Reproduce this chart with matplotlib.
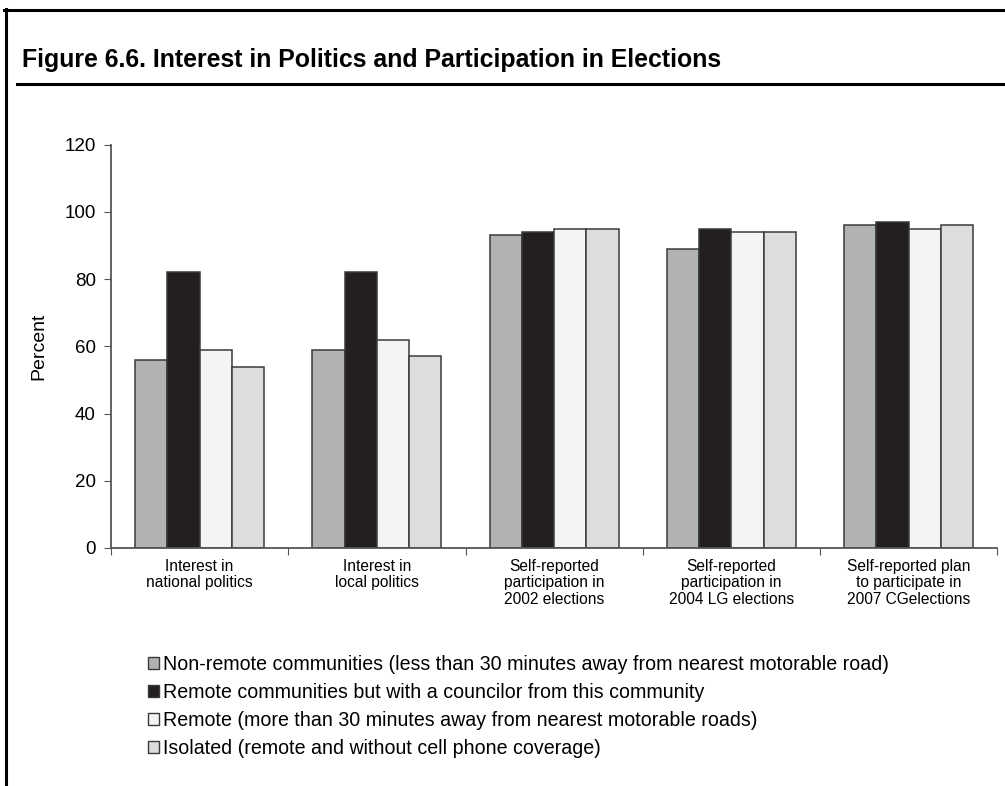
import matplotlib
matplotlib.use("Agg")
import matplotlib.pyplot as plt
import numpy as np
from matplotlib.patches import Patch
from matplotlib.lines import Line2D

plt.rcParams["font.family"] = ["Liberation Sans", "DejaVu Sans"]

categories = [
    "Interest in\nnational politics",
    "Interest in\nlocal politics",
    "Self-reported\nparticipation in\n2002 elections",
    "Self-reported\nparticipation in\n2004 LG elections",
    "Self-reported plan\nto participate in\n2007 CGelections",
]
series_names = [
    "Non-remote communities (less than 30 minutes away from nearest motorable road)",
    "Remote communities but with a councilor from this community",
    "Remote (more than 30 minutes away from nearest motorable roads)",
    "Isolated (remote and without cell phone coverage)",
]
non_remote = [56, 59, 93, 89, 96]
remote_councilor = [82, 82, 94, 95, 97]
remote = [59, 62, 95, 94, 95]
isolated = [54, 57, 95, 94, 96]
yticks = [0, 20, 40, 60, 80, 100, 120]

colors = ["#b1b2b4", "#231f20", "#f4f4f4", "#dcdddf"]
edge = "#3a3a3a"

fig = plt.figure(figsize=(10.05, 7.86), dpi=100)

# frame: top border, left border, rule under the title
fig.add_artist(Line2D([0.004, 1.0], [0.987, 0.987], color="black", lw=2.2))
fig.add_artist(Line2D([0.006, 0.006], [0.0, 0.988], color="black", lw=2.2))
fig.add_artist(Line2D([0.017, 1.0], [0.893, 0.893], color="black", lw=2.2))
fig.text(0.022, 0.924, "Figure 6.6. Interest in Politics and Participation in Elections",
         fontsize=17.9, fontweight="bold", va="center", ha="left")

ax = fig.add_axes([0.1104, 0.3028, 0.882, 0.5131])
x = np.arange(len(categories))
w = 0.182
all_series = [non_remote, remote_councilor, remote, isolated]
for i, vals in enumerate(all_series):
    ax.bar(x + (i - 1.5) * w, vals, w, color=colors[i], edgecolor=edge,
           linewidth=1.1, zorder=2)

ax.set_xlim(-0.5, 4.5)
ax.set_ylim(0, 120)
ax.set_yticks(yticks)
ax.set_yticklabels([str(v) for v in yticks], fontsize=13.5)
ax.set_ylabel("Percent", fontsize=14, labelpad=12)
ax.set_xticks(np.arange(-0.5, 5.0, 1.0))
ax.set_xticklabels([])
ax.set_xticks(x, minor=True)
ax.set_xticklabels(categories, minor=True, fontsize=11.2, linespacing=1.1)
ax.tick_params(axis="x", which="minor", length=0, pad=8)
ax.tick_params(axis="x", which="major", length=5, direction="out", color="#555555")
ax.tick_params(axis="y", length=5, direction="out", color="#555555", pad=6)
for s in ("top", "right"):
    ax.spines[s].set_visible(False)
for s in ("left", "bottom"):
    ax.spines[s].set_color("#555555")
    ax.spines[s].set_linewidth(1.3)

handles = [Patch(facecolor=colors[i], edgecolor=edge, linewidth=1.0)
           for i in range(4)]
fig.legend(handles, series_names, loc="upper left", bbox_to_anchor=(0.139, 0.177),
           frameon=False, fontsize=14.1, handlelength=0.6, handleheight=0.6,
           handletextpad=0.2, labelspacing=0.46, borderaxespad=0)

fig.savefig("out.png", dpi=100)
